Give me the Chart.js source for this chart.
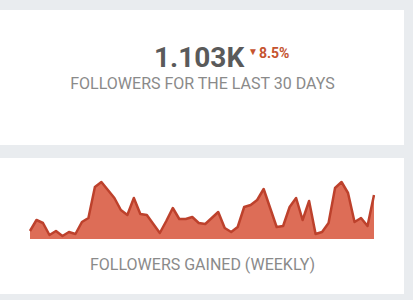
<!DOCTYPE html>
<html>
<head>
<meta charset="utf-8">
<script src="https://cdn.jsdelivr.net/npm/chart.js@4/dist/chart.umd.min.js"></script>
<style>
  html, body { margin: 0; padding: 0; }
  body { width: 413px; height: 300px; background: #e9ecef; position: relative; overflow: hidden; font-family: Roboto, "Noto Sans", sans-serif; }
  .card { position: absolute; left: 0; width: 404px; background: #ffffff; }
  #c1 { top: 10px; height: 135px; }
  #c2 { top: 158px; height: 136px; }
  .t { position: absolute; white-space: nowrap; }
  #big { left: 154px; top: 44px; font-size: 28px; line-height: 28px; font-weight: 700; color: #5a5a5a; }
  #pct { left: 248px; top: 46px; font-size: 14px; line-height: 14px; font-weight: 700; color: #c5532f; }
  #pct .tri { font-size: 10px; position: relative; top: -3px; margin-right: 1px; }
  #sub1 { left: 0; width: 405px; text-align: center; top: 76px; font-size: 16px; line-height: 16px; color: #8a8a8a; }
  #sub2 { left: 0; width: 405px; text-align: center; top: 257px; font-size: 16px; line-height: 16px; color: #8a8a8a; }
  #wrap { position: absolute; left: 27px; top: 176px; width: 350px; height: 66px; }
</style>
</head>
<body>
<div class="card" id="c1"></div>
<div class="card" id="c2"></div>
<div class="t" id="big">1.103K</div>
<div class="t" id="pct"><span class="tri">▼</span>8.5%</div>
<div class="t" id="sub1">FOLLOWERS FOR THE LAST 30 DAYS</div>
<div class="t" id="sub2">FOLLOWERS GAINED (WEEKLY)</div>
<div id="wrap"><canvas id="chart" width="350" height="66"></canvas></div>
<script>
const weeks = Array.from({length: 54}, (_, i) => 'W' + (i + 1));
const followersGained = [8, 19, 16, 4, 8, 3, 7, 5, 17, 21, 52, 57, 49, 41, 29, 24, 41, 25, 24, 15, 6, 18, 31, 20, 20, 22, 16, 15, 21, 27, 11, 7, 12, 32, 34, 39, 50, 31, 12, 13, 32, 41, 19, 38, 5, 7, 16, 51, 57, 46, 17, 21, 13, 44];
const yMin = 0;
const yMax = 60;

new Chart(document.getElementById('chart'), {
  type: 'line',
  data: {
    labels: weeks,
    datasets: [{
      data: followersGained,
      borderColor: '#bd412c',
      backgroundColor: '#dd6d57',
      borderWidth: 2.5,
      fill: 'origin',
      tension: 0,
      pointRadius: 0,
      borderJoinStyle: 'round'
    }]
  },
  options: {
    responsive: false,
    animation: false,
    events: [],
    layout: { padding: 3 },
    plugins: { legend: { display: false }, tooltip: { enabled: false } },
    scales: {
      x: { display: false },
      y: { display: false, min: yMin, max: yMax }
    }
  }
});
</script>
</body>
</html>
